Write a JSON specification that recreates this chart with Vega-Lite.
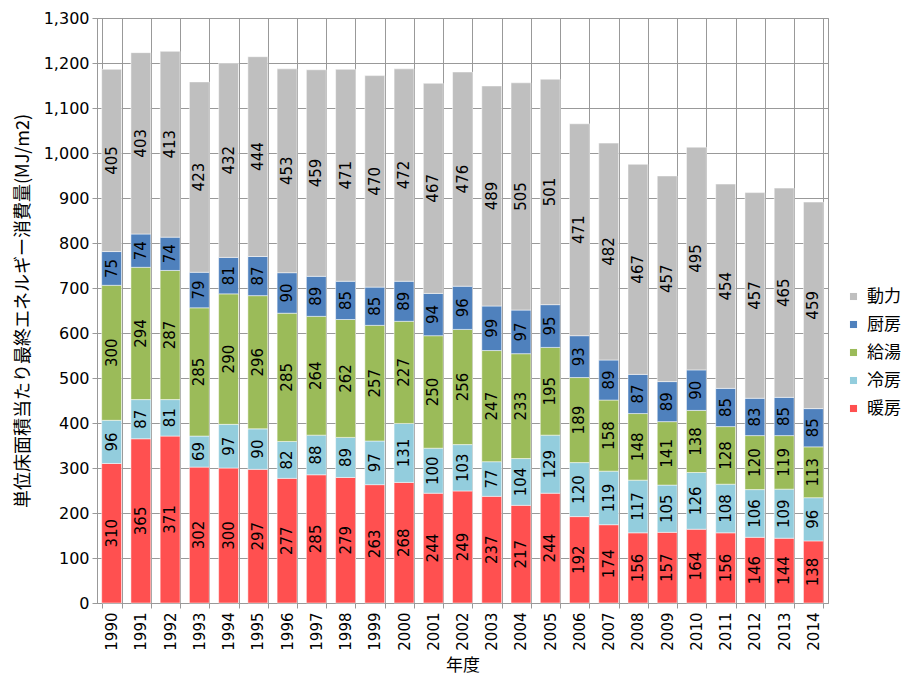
{
  "$schema": "https://vega.github.io/schema/vega-lite/v6.json",
  "width": 731,
  "height": 585,
  "autosize": "none",
  "padding": {"left": 97, "top": 18, "right": 80, "bottom": 77},
  "background": "white",
  "config": {
    "view": {"stroke": "#999999", "strokeWidth": 1},
    "font": "DejaVu Sans"
  },
  "data": {
    "values": [
      {"年度": "1990", "暖房": 310, "冷房": 96, "給湯": 300, "厨房": 75, "動力": 405},
      {"年度": "1991", "暖房": 365, "冷房": 87, "給湯": 294, "厨房": 74, "動力": 403},
      {"年度": "1992", "暖房": 371, "冷房": 81, "給湯": 287, "厨房": 74, "動力": 413},
      {"年度": "1993", "暖房": 302, "冷房": 69, "給湯": 285, "厨房": 79, "動力": 423},
      {"年度": "1994", "暖房": 300, "冷房": 97, "給湯": 290, "厨房": 81, "動力": 432},
      {"年度": "1995", "暖房": 297, "冷房": 90, "給湯": 296, "厨房": 87, "動力": 444},
      {"年度": "1996", "暖房": 277, "冷房": 82, "給湯": 285, "厨房": 90, "動力": 453},
      {"年度": "1997", "暖房": 285, "冷房": 88, "給湯": 264, "厨房": 89, "動力": 459},
      {"年度": "1998", "暖房": 279, "冷房": 89, "給湯": 262, "厨房": 85, "動力": 471},
      {"年度": "1999", "暖房": 263, "冷房": 97, "給湯": 257, "厨房": 85, "動力": 470},
      {"年度": "2000", "暖房": 268, "冷房": 131, "給湯": 227, "厨房": 89, "動力": 472},
      {"年度": "2001", "暖房": 244, "冷房": 100, "給湯": 250, "厨房": 94, "動力": 467},
      {"年度": "2002", "暖房": 249, "冷房": 103, "給湯": 256, "厨房": 96, "動力": 476},
      {"年度": "2003", "暖房": 237, "冷房": 77, "給湯": 247, "厨房": 99, "動力": 489},
      {"年度": "2004", "暖房": 217, "冷房": 104, "給湯": 233, "厨房": 97, "動力": 505},
      {"年度": "2005", "暖房": 244, "冷房": 129, "給湯": 195, "厨房": 95, "動力": 501},
      {"年度": "2006", "暖房": 192, "冷房": 120, "給湯": 189, "厨房": 93, "動力": 471},
      {"年度": "2007", "暖房": 174, "冷房": 119, "給湯": 158, "厨房": 89, "動力": 482},
      {"年度": "2008", "暖房": 156, "冷房": 117, "給湯": 148, "厨房": 87, "動力": 467},
      {"年度": "2009", "暖房": 157, "冷房": 105, "給湯": 141, "厨房": 89, "動力": 457},
      {"年度": "2010", "暖房": 164, "冷房": 126, "給湯": 138, "厨房": 90, "動力": 495},
      {"年度": "2011", "暖房": 156, "冷房": 108, "給湯": 128, "厨房": 85, "動力": 454},
      {"年度": "2012", "暖房": 146, "冷房": 106, "給湯": 120, "厨房": 83, "動力": 457},
      {"年度": "2013", "暖房": 144, "冷房": 109, "給湯": 119, "厨房": 85, "動力": 465},
      {"年度": "2014", "暖房": 138, "冷房": 96, "給湯": 113, "厨房": 85, "動力": 459}
    ]
  },
  "transform": [
    {"fold": ["暖房", "冷房", "給湯", "厨房", "動力"], "as": ["用途", "値"]},
    {"calculate": "indexof(['暖房','冷房','給湯','厨房','動力'], datum['用途'])", "as": "順"},
    {"stack": "値", "groupby": ["年度"], "sort": [{"field": "順", "order": "ascending"}], "as": ["y0", "y1"]},
    {"calculate": "(datum.y0 + datum.y1) / 2", "as": "mid"}
  ],
  "encoding": {
    "x": {
      "field": "年度",
      "type": "ordinal",
      "scale": {"paddingInner": 0.32, "paddingOuter": 0.16},
      "axis": {
        "title": "年度",
        "titleFont": "Noto Sans CJK JP",
        "titleFontSize": 17,
        "titleFontWeight": "normal",
        "titleColor": "black",
        "titlePadding": 7,
        "labelAngle": 270,
        "labelAlign": "right",
        "labelBaseline": "middle",
        "labelFont": "DejaVu Sans",
        "labelFontSize": 15,
        "labelColor": "black",
        "labelPadding": 4,
        "tickBand": "extent",
        "grid": true,
        "gridColor": "#999999",
        "tickColor": "#999999",
        "tickSize": 5,
        "domainColor": "#999999"
      }
    }
  },
  "layer": [
    {
      "mark": {"type": "bar", "stroke": "white", "strokeWidth": 0.5},
      "encoding": {
        "y": {
          "field": "y0",
          "type": "quantitative",
          "scale": {"domain": [0, 1300]},
          "axis": {
            "title": "単位床面積当たり最終エネルギー消費量(MJ/m2)",
            "titleFont": "Noto Sans CJK JP",
            "titleFontSize": 18,
            "titleFontWeight": "normal",
            "titleColor": "black",
            "titlePadding": 11,
            "values": [0, 100, 200, 300, 400, 500, 600, 700, 800, 900, 1000, 1100, 1200, 1300],
            "format": ",.0f",
            "labelFont": "DejaVu Sans",
            "labelFontSize": 16,
            "labelColor": "black",
            "labelPadding": 3,
            "grid": true,
            "gridColor": "#999999",
            "tickColor": "#999999",
            "tickSize": 5,
            "domainColor": "#999999"
          }
        },
        "y2": {"field": "y1"},
        "color": {
          "field": "用途",
          "type": "nominal",
          "scale": {
            "domain": ["動力", "厨房", "給湯", "冷房", "暖房"],
            "range": ["#BFBFBF", "#4F81BD", "#9BBB59", "#93CDDD", "#FF5050"]
          },
          "legend": {
            "title": null,
            "orient": "none",
            "legendX": 748,
            "legendY": 270,
            "padding": 0,
            "symbolType": "square",
            "symbolSize": 50,
            "symbolStrokeWidth": 0,
            "labelFont": "Noto Sans CJK JP",
            "labelFontSize": 17,
            "labelColor": "black",
            "labelOffset": 5,
            "rowPadding": 10
          }
        }
      }
    },
    {
      "mark": {"type": "text", "angle": 270, "fontSize": 15, "font": "DejaVu Sans", "color": "black", "align": "center", "baseline": "middle"},
      "encoding": {
        "y": {"field": "mid", "type": "quantitative"},
        "text": {"field": "値", "type": "quantitative"}
      }
    }
  ]
}
